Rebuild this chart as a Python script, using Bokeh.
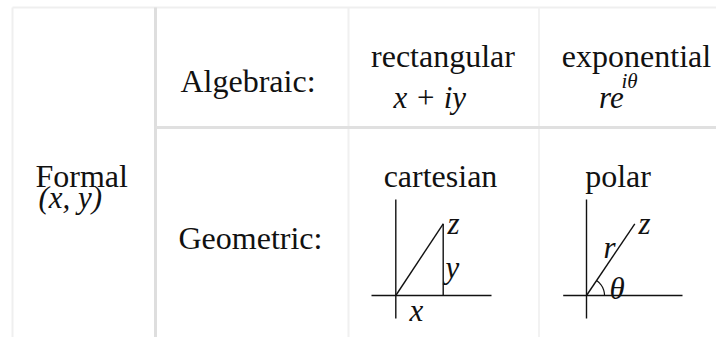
import numpy as np
from bokeh.plotting import figure
from bokeh.models import Range1d
from bokeh.core.properties import value
from bokeh.embed import file_html
from bokeh.resources import INLINE

# ---- table structure (picture pixel coordinates) ----
col_lines_x = [12, 155, 348, 538.5]
col_lines_color = ["#efefef", "#dedede", "#f0f0f0", "#f2f2f2"]
col_lines_width = [2, 3, 2, 2]
table_top = 7
table_bottom = 337
row_line_y = 127
row_line_color = "#e0e0e0"
table_right = 716

# ---- text cells ----
roman_texts = ["Algebraic:", "Geometric:", "Formal", "rectangular", "exponential", "cartesian", "polar"]
roman_x = [180, 178, 35, 442.5, 636, 440, 617.5]
roman_y = [80, 237.5, 175, 55, 55, 175, 175]
roman_align = ["left", "left", "left", "center", "center", "center", "center"]

math_texts = ["(x, y)", "x + iy", "re"]
math_x = [38, 393, 598.5]
math_y = [197, 96.7, 96.7]
sup_texts = ["iθ"]
sup_x = [621]
sup_y = [80]

# ---- cartesian diagram ----
cart_origin = (395.3, 295)
cart_h_axis = (371, 491)
cart_v_axis = (199, 318)
cart_point = (442.7, 223.3)
cart_labels = ["z", "y", "x"]
cart_lab_x = [447, 445, 409]
cart_lab_y = [223, 267, 310]

# ---- polar diagram ----
pol_origin = (586, 295)
pol_h_axis = (562.7, 682)
pol_v_axis = (199, 318)
pol_point = (634.3, 223.3)
pol_arc_r = 18
pol_labels = ["z", "r", "θ"]
pol_lab_x = [638, 603, 609]
pol_lab_y = [223, 247, 288]

FONT = value("Liberation Serif")
INK = "#111111"

p = figure(width=716, height=337, output_backend="svg", toolbar_location=None,
           x_range=Range1d(0, 716), y_range=Range1d(337, 0),
           x_axis_type=None, y_axis_type=None, min_border=0)
p.grid.visible = False
p.outline_line_color = None
p.background_fill_color = "white"
p.border_fill_color = "white"

# table lines
p.segment(x0=[col_lines_x[0]], y0=[table_top], x1=[table_right], y1=[table_top],
          line_color="#efefef", line_width=2)
p.segment(x0=col_lines_x, y0=[table_top] * 4, x1=col_lines_x, y1=[table_bottom] * 4,
          line_color=col_lines_color, line_width=col_lines_width)
p.segment(x0=[col_lines_x[1]], y0=[row_line_y], x1=[table_right], y1=[row_line_y],
          line_color=row_line_color, line_width=3)

# roman texts
for t, x, y, a in zip(roman_texts, roman_x, roman_y, roman_align):
    p.text(x=[x], y=[y], text=[t], text_font=FONT, text_font_size="32px",
           text_align=a, text_baseline="alphabetic", text_color=INK)

# math texts
p.text(x=math_x, y=math_y, text=math_texts, text_font=FONT, text_font_size="31px",
       text_font_style="italic", text_align="left", text_baseline="alphabetic", text_color=INK)
p.text(x=sup_x, y=sup_y, text=sup_texts, text_font=FONT, text_font_size="21px",
       text_font_style="italic", text_align="left", text_baseline="alphabetic", text_color=INK)

LW = 1.4
# cartesian
ox, oy = cart_origin
p.segment(x0=[cart_h_axis[0], ox, ox, cart_point[0]],
          y0=[oy, cart_v_axis[0], oy, cart_point[1]],
          x1=[cart_h_axis[1], ox, cart_point[0], cart_point[0]],
          y1=[oy, cart_v_axis[1], cart_point[1], oy],
          line_color=INK, line_width=LW)
p.text(x=cart_lab_x, y=cart_lab_y, text=cart_labels, text_font=FONT, text_font_size="31px",
       text_font_style="italic", text_align="left", text_baseline="alphabetic", text_color=INK)

# polar
px, py = pol_origin
p.segment(x0=[pol_h_axis[0], px, px],
          y0=[py, pol_v_axis[0], py],
          x1=[pol_h_axis[1], px, pol_point[0]],
          y1=[py, pol_v_axis[1], pol_point[1]],
          line_color=INK, line_width=LW)
ang = np.arctan2(py - pol_point[1], pol_point[0] - px)
tt = np.linspace(0, ang, 30)
p.line(x=px + pol_arc_r * np.cos(tt), y=py - pol_arc_r * np.sin(tt), line_color=INK, line_width=1.2)
p.text(x=pol_lab_x, y=pol_lab_y, text=pol_labels, text_font=FONT, text_font_size="31px",
       text_font_style="italic", text_align="left", text_baseline="alphabetic", text_color=INK)

open("out.html", "w").write(file_html(p, INLINE))
